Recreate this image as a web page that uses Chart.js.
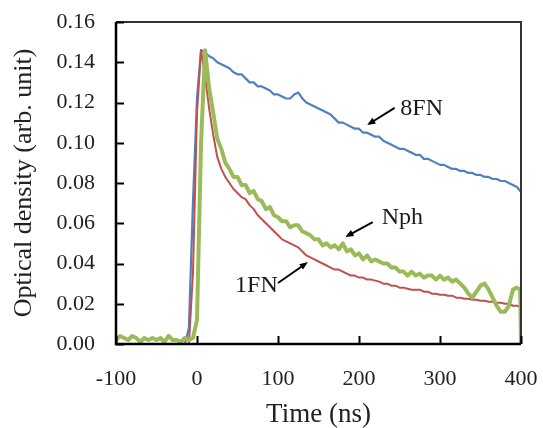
<!DOCTYPE html>
<html>
<head>
<meta charset="utf-8">
<script src="https://cdn.jsdelivr.net/npm/chart.js@4.4.1/dist/chart.umd.min.js"></script>
<style>
    body { margin: 0; background: #fff; }
    canvas { display: block; }
</style>
</head>
<body>
<canvas id="decay-chart" width="543" height="428"></canvas>
<script>
// time axis (ns)
const timeNs = [
    -100, -95, -90, -85, -80, -75, -70, -65, -60, -55,
    -50, -45, -40, -35, -30, -25, -20, -15, -10, -5,
    0, 5, 10, 15, 20, 25, 30, 35, 40, 45,
    50, 55, 60, 65, 70, 75, 80, 85, 90, 95,
    100, 105, 110, 115, 120, 125, 130, 135, 140, 145,
    150, 155, 160, 165, 170, 175, 180, 185, 190, 195,
    200, 205, 210, 215, 220, 225, 230, 235, 240, 245,
    250, 255, 260, 265, 270, 275, 280, 285, 290, 295,
    300, 305, 310, 315, 320, 325, 330, 335, 340, 345,
    350, 355, 360, 365, 370, 375, 380, 385, 390, 395,
    399, 400
];

const od8FN = [
    0, 0, 0, 0, 0, 0, 0, 0, 0, 0,
    0, 0, 0, 0, 0, 0, 0, 0, 0.008, 0.070,
    0.122, 0.146, 0.145, 0.143, 0.142, 0.140, 0.139, 0.138, 0.137, 0.135,
    0.134, 0.134, 0.132, 0.130, 0.130, 0.128, 0.128, 0.127, 0.126, 0.124,
    0.124, 0.123, 0.122, 0.122, 0.124, 0.125, 0.122, 0.120, 0.119, 0.118,
    0.117, 0.116, 0.115, 0.114, 0.112, 0.110, 0.110, 0.109, 0.108, 0.107,
    0.107, 0.105, 0.105, 0.104, 0.103, 0.103, 0.101, 0.100, 0.099, 0.098,
    0.097, 0.097, 0.096, 0.095, 0.094, 0.094, 0.092, 0.092, 0.091, 0.090,
    0.089, 0.089, 0.088, 0.087, 0.087, 0.086, 0.086, 0.085, 0.085, 0.084,
    0.084, 0.083, 0.083, 0.082, 0.082, 0.081, 0.081, 0.080, 0.079, 0.078,
    0.076, 0.076
];

const od1FN = [
    0, 0, 0, 0, 0, 0, 0, 0, 0, 0,
    0, 0, 0, 0, 0, 0, 0, 0, 0, 0.035,
    0.115, 0.146, 0.133, 0.117, 0.104, 0.093, 0.087, 0.083, 0.080, 0.077,
    0.075, 0.073, 0.072, 0.069, 0.067, 0.064, 0.062, 0.060, 0.058, 0.056,
    0.054, 0.052, 0.051, 0.050, 0.049, 0.048, 0.046, 0.044, 0.043, 0.042,
    0.041, 0.040, 0.039, 0.038, 0.037, 0.037, 0.036, 0.035, 0.034, 0.034,
    0.033, 0.033, 0.032, 0.032, 0.0315, 0.031, 0.030, 0.030, 0.029, 0.029,
    0.028, 0.028, 0.0275, 0.027, 0.027, 0.027, 0.026, 0.026, 0.025, 0.025,
    0.0245, 0.0245, 0.024, 0.024, 0.023, 0.023, 0.0225, 0.0225, 0.022, 0.022,
    0.0215, 0.0215, 0.021, 0.021, 0.0205, 0.0205, 0.020, 0.020, 0.019, 0.019,
    0.0185, 0.0185
];

const odNph = [
    0.002, 0.004, 0.003, 0.002, 0.004, 0.003, 0.001, 0.003, 0.002, 0.003,
    0.002, 0.003, 0.001, 0.004, 0.002, 0.002, 0.001, 0.003, 0.002, 0.003,
    0.012, 0.100, 0.146, 0.127, 0.115, 0.102, 0.097, 0.090, 0.087, 0.083,
    0.083, 0.079, 0.079, 0.075, 0.076, 0.072, 0.071, 0.067, 0.068, 0.064,
    0.063, 0.061, 0.061, 0.058, 0.059, 0.059, 0.056, 0.055, 0.054, 0.052,
    0.052, 0.049, 0.050, 0.048, 0.049, 0.047, 0.050, 0.046, 0.047, 0.044,
    0.045, 0.042, 0.044, 0.041, 0.042, 0.041, 0.040, 0.040, 0.038, 0.038,
    0.036, 0.036, 0.034, 0.036, 0.034, 0.035, 0.033, 0.034, 0.034, 0.032,
    0.034, 0.032, 0.033, 0.031, 0.032, 0.030, 0.028, 0.025, 0.023, 0.026,
    0.029, 0.030, 0.027, 0.023, 0.019, 0.016, 0.016, 0.019, 0.027, 0.028,
    0.027, 0.000
];

const xTicks = [-100, 0, 100, 200, 300, 400];
const yTicks = [0, 0.02, 0.04, 0.06, 0.08, 0.10, 0.12, 0.14, 0.16];

// curve labels with arrows, in data units: text at (x, y baseline), arrow from -> to
const noteText = ['8FN', 'Nph', '1FN'];
const noteX = [251, 228, 47];
const noteY = [0.1138, 0.0598, 0.0258];
const arrowFrom = [[244, 0.1173], [217, 0.0606], [100, 0.0303]];
const arrowTo = [[210, 0.1088], [183, 0.0532], [137, 0.0407]];

const serif = '"Liberation Serif", "Times New Roman", serif';

function toPoints (values) {
    return timeNs.map((t, i) => ({ x: t, y: values[i] }));
}

// tick labels should not push the plot area inwards
function noScalePadding (scale) {
    scale.paddingTop = 0;
    scale.paddingBottom = 0;
    scale.paddingLeft = 0;
    scale.paddingRight = 0;
}

const framePlugin = {
    id: 'frame',
    afterDatasetsDraw (chart) {
        const { ctx, chartArea: area, scales } = chart;
        ctx.save();

        // top and right border
        ctx.strokeStyle = '#333';
        ctx.lineWidth = 2;
        ctx.beginPath();
        ctx.moveTo(area.left, area.top);
        ctx.lineTo(area.right, area.top);
        ctx.lineTo(area.right, area.bottom);
        ctx.stroke();

        // left and bottom axis
        ctx.strokeStyle = '#000';
        ctx.lineWidth = 2.5;
        ctx.beginPath();
        ctx.moveTo(area.left, area.top);
        ctx.lineTo(area.left, area.bottom);
        ctx.lineTo(area.right, area.bottom);
        ctx.stroke();

        // inward tick marks
        ctx.lineWidth = 2;
        ctx.beginPath();
        yTicks.forEach(v => {
            const py = Math.round(scales.y.getPixelForValue(v)) + 0.5;
            ctx.moveTo(area.left, py);
            ctx.lineTo(area.left + 8, py);
        });
        xTicks.forEach(v => {
            const px = Math.round(scales.x.getPixelForValue(v)) + 0.5;
            ctx.moveTo(px, area.bottom);
            ctx.lineTo(px, area.bottom - 8);
        });
        ctx.stroke();

        // curve labels
        ctx.fillStyle = '#1a1a1a';
        ctx.font = '24px ' + serif;
        ctx.textAlign = 'left';
        ctx.textBaseline = 'alphabetic';
        noteText.forEach((text, i) => {
            ctx.fillText(text, scales.x.getPixelForValue(noteX[i]), scales.y.getPixelForValue(noteY[i]));
        });

        ctx.strokeStyle = '#000';
        ctx.fillStyle = '#000';
        ctx.lineWidth = 2;
        arrowFrom.forEach((from, i) => {
            const x1 = scales.x.getPixelForValue(from[0]);
            const y1 = scales.y.getPixelForValue(from[1]);
            const x2 = scales.x.getPixelForValue(arrowTo[i][0]);
            const y2 = scales.y.getPixelForValue(arrowTo[i][1]);
            const angle = Math.atan2(y2 - y1, x2 - x1);
            const head = 9;

            ctx.beginPath();
            ctx.moveTo(x1, y1);
            ctx.lineTo(x2 - Math.cos(angle) * head * 0.8, y2 - Math.sin(angle) * head * 0.8);
            ctx.stroke();

            ctx.beginPath();
            ctx.moveTo(x2, y2);
            ctx.lineTo(x2 - head * Math.cos(angle - 0.38), y2 - head * Math.sin(angle - 0.38));
            ctx.lineTo(x2 - head * Math.cos(angle + 0.38), y2 - head * Math.sin(angle + 0.38));
            ctx.closePath();
            ctx.fill();
        });

        ctx.restore();
    }
};

new Chart(
    document.getElementById('decay-chart'),
    {
        type: 'line',
        data: {
            datasets: [
                {
                    label: 'Nph',
                    data: toPoints(odNph),
                    borderColor: '#9bbb59',
                    borderWidth: 4,
                    order: 1
                },
                {
                    label: '1FN',
                    data: toPoints(od1FN),
                    borderColor: '#c0504d',
                    borderWidth: 2,
                    order: 2
                },
                {
                    label: '8FN',
                    data: toPoints(od8FN),
                    borderColor: '#4f81bd',
                    borderWidth: 2.2,
                    order: 3
                }
            ]
        },
        options: {
            responsive: false,
            animation: false,
            elements: {
                point: { radius: 0 },
                line: { tension: 0, borderJoinStyle: 'round' }
            },
            layout: {
                padding: { top: 22, right: 22, left: 0, bottom: 0 }
            },
            plugins: {
                legend: { display: false },
                tooltip: { enabled: false }
            },
            scales: {
                x: {
                    type: 'linear',
                    min: -100,
                    max: 400,
                    afterFit: scale => {
                        scale.height = 84;
                        noScalePadding(scale);
                    },
                    afterBuildTicks: scale => { scale.ticks = xTicks.map(v => ({ value: v })); },
                    grid: { display: false, drawTicks: false },
                    border: { display: false },
                    ticks: {
                        padding: 22,
                        color: '#222',
                        font: { family: serif, size: 22 }
                    },
                    title: {
                        display: true,
                        text: 'Time (ns)',
                        color: '#222',
                        font: { family: serif, size: 27, lineHeight: 1.0 },
                        padding: { top: 0, bottom: 0 }
                    }
                },
                y: {
                    min: 0,
                    max: 0.16,
                    afterFit: scale => {
                        scale.width = 116;
                        noScalePadding(scale);
                    },
                    afterBuildTicks: scale => { scale.ticks = yTicks.map(v => ({ value: v })); },
                    grid: { display: false, drawTicks: false },
                    border: { display: false },
                    ticks: {
                        padding: 21,
                        color: '#222',
                        font: { family: serif, size: 22 },
                        callback: value => value.toFixed(2)
                    },
                    title: {
                        display: true,
                        text: 'Optical density (arb. unit)',
                        color: '#222',
                        font: { family: serif, size: 26, lineHeight: 1.2 },
                        padding: { top: 9, bottom: 0 }
                    }
                }
            }
        },
        plugins: [framePlugin]
    }
);
</script>
</body>
</html>
